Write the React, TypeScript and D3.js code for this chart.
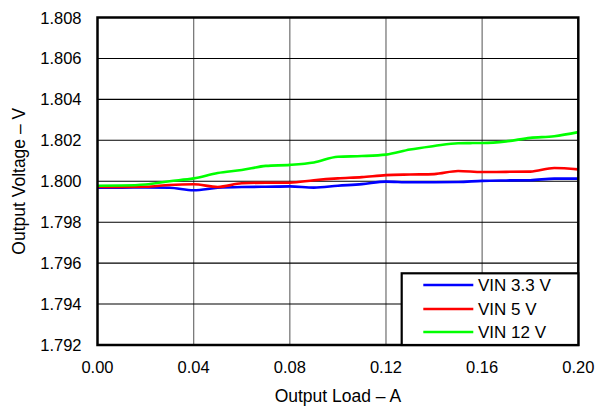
import React from "react";
import * as d3 from "d3";

const loads = [0, 0.01, 0.02, 0.03, 0.04, 0.05, 0.06, 0.07, 0.08, 0.09, 0.1, 0.11, 0.12, 0.13, 0.14, 0.15, 0.16, 0.17, 0.18, 0.19, 0.2];
const vin33 = [1.79969, 1.79969, 1.7997, 1.79968, 1.79956, 1.79968, 1.79972, 1.79973, 1.79975, 1.79969, 1.79978, 1.79986, 1.79998, 1.79995, 1.79995, 1.79996, 1.80002, 1.80004, 1.80005, 1.80013, 1.80013];
const vin5 = [1.79973, 1.79972, 1.79973, 1.79982, 1.79985, 1.79972, 1.7999, 1.79993, 1.79993, 1.80005, 1.80014, 1.8002, 1.8003, 1.80033, 1.80035, 1.8005, 1.80045, 1.80046, 1.80047, 1.80065, 1.80058];
const vin12 = [1.79978, 1.79979, 1.79984, 1.8, 1.80014, 1.8004, 1.80055, 1.80075, 1.8008, 1.80092, 1.8012, 1.80123, 1.8013, 1.80155, 1.80172, 1.80186, 1.80187, 1.80195, 1.80212, 1.8022, 1.8024];

const seriesNames = ["VIN 3.3 V", "VIN 5 V", "VIN 12 V"];
const seriesColors = ["#0000ff", "#ff0000", "#00ff00"];
const xTicks = [0, 0.04, 0.08, 0.12, 0.16, 0.2];
const yTicks = [1.792, 1.794, 1.796, 1.798, 1.8, 1.802, 1.804, 1.806, 1.808];

const W = 595, H = 407;
const L = 97.5, R = 578.3, T = 17.5, B = 345;
const FONT = "'Liberation Sans', Arial, Helvetica, sans-serif";

export default function App() {
  const x = d3.scaleLinear().domain([0, 0.2]).range([L, R]);
  const y = d3.scaleLinear().domain([1.792, 1.808]).range([B, T]);
  const line = d3
    .line<[number, number]>()
    .x((d) => x(d[0]))
    .y((d) => y(d[1]))
    .curve(d3.curveMonotoneX);
  const series = [vin33, vin5, vin12];

  const legL = 401.7, legT = 273.3;
  const rows = [285, 309, 332];

  return (
    <svg width={W} height={H} style={{ position: "absolute", left: 0, top: 0, background: "#fff" }} fontFamily={FONT}>
      <rect x={0} y={0} width={W} height={H} fill="#fff" />
      {xTicks.slice(1, -1).map((t) => (
        <line key={"vx" + t} x1={x(t)} x2={x(t)} y1={T} y2={B} stroke="#7a7a7a" strokeWidth={1.3} />
      ))}
      {yTicks.slice(1, -1).map((t) => (
        <line key={"hy" + t} x1={L} x2={R} y1={y(t)} y2={y(t)} stroke="#000" strokeWidth={1.1} />
      ))}
      {series.map((s, i) => (
        <path
          key={seriesNames[i]}
          d={line(loads.map((l, j) => [l, s[j]] as [number, number])) || ""}
          fill="none"
          stroke={seriesColors[i]}
          strokeWidth={2.6}
        />
      ))}
      <rect x={L} y={T} width={R - L} height={B - T} fill="none" stroke="#000" strokeWidth={2.5} />
      {yTicks.map((t) => (
        <text key={"yt" + t} x={81.5} y={y(t) + 6} textAnchor="end" fontSize={16.5} fill="#000">
          {t.toFixed(3)}
        </text>
      ))}
      {xTicks.map((t) => (
        <text key={"xt" + t} x={x(t)} y={372.5} textAnchor="middle" fontSize={16.5} fill="#000">
          {t.toFixed(2)}
        </text>
      ))}
      <text x={(L + R) / 2} y={401.5} textAnchor="middle" fontSize={17.5} fill="#000">
        Output Load – A
      </text>
      <text
        transform={`translate(25,${(T + B) / 2}) rotate(-90)`}
        textAnchor="middle"
        fontSize={17.5}
        fill="#000"
      >
        Output Voltage – V
      </text>
      <rect x={legL} y={legT} width={R - legL} height={B - legT} fill="#fff" stroke="#000" strokeWidth={2.2} />
      {seriesNames.map((n, i) => (
        <g key={"lg" + n}>
          <line x1={423.3} x2={473.3} y1={rows[i]} y2={rows[i]} stroke={seriesColors[i]} strokeWidth={2.6} />
          <text x={478} y={rows[i] + 6.2} fontSize={17} fill="#000">
            {n}
          </text>
        </g>
      ))}
    </svg>
  );
}
